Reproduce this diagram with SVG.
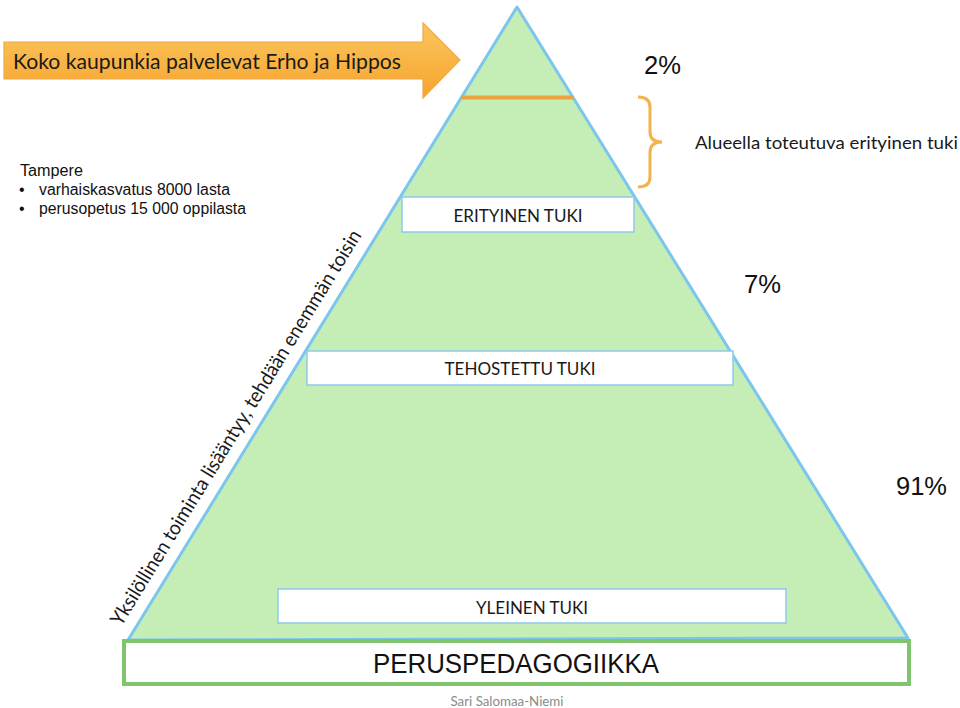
<svg xmlns="http://www.w3.org/2000/svg" width="960" height="708" viewBox="0 0 960 708">
<defs>
<linearGradient id="og" x1="0" y1="0" x2="0" y2="1">
<stop offset="0" stop-color="#fbc660"/>
<stop offset="1" stop-color="#f6a42c"/>
</linearGradient>
<style>
.box{fill:#ffffff;stroke:#8ec9ec;stroke-width:1.5}
.cal{font-family:"Lato","Open Sans",sans-serif;fill:#1a1a1a}
.ari{font-family:"Liberation Sans",Arial,sans-serif;fill:#111}
</style>
</defs>
<rect width="960" height="708" fill="#ffffff"/>
<g id="pyramid">
<polygon points="517,7 128,640 908,638" fill="#c4eeb5" stroke="#7cc6ee" stroke-width="3" stroke-linejoin="round"/>
<line x1="461" y1="97.5" x2="573" y2="97.5" stroke="#e9a33f" stroke-width="4"/>
</g>
<g id="arrow">
<polygon points="4,42 423,42 423,23 460,60 423,98 423,79 4,79" fill="url(#og)" stroke="#eea84a" stroke-width="1.2"/>
<text class="cal" x="13" y="69" font-size="22" textLength="388" lengthAdjust="spacingAndGlyphs">Koko kaupunkia palvelevat Erho ja Hippos</text>
</g>
<g id="tampere">
<text class="ari" x="20" y="176" font-size="16" textLength="63" lengthAdjust="spacingAndGlyphs">Tampere</text>
<text class="ari" x="19" y="195" font-size="16">•</text>
<text class="ari" x="39" y="195" font-size="16" textLength="191" lengthAdjust="spacingAndGlyphs">varhaiskasvatus 8000 lasta</text>
<text class="ari" x="19" y="214" font-size="16">•</text>
<text class="ari" x="39" y="214" font-size="16" textLength="207" lengthAdjust="spacingAndGlyphs">perusopetus 15 000 oppilasta</text>
</g>
<g id="erityinen">
<rect class="box" x="402" y="197" width="232" height="35"/>
<text class="cal" x="518" y="222" font-size="18" text-anchor="middle" textLength="129" lengthAdjust="spacingAndGlyphs">ERITYINEN TUKI</text>
</g>
<g id="tehostettu">
<rect class="box" x="307" y="351" width="426" height="34"/>
<text class="cal" x="520" y="375" font-size="18" text-anchor="middle" textLength="151" lengthAdjust="spacingAndGlyphs">TEHOSTETTU TUKI</text>
</g>
<g id="yleinen">
<rect class="box" x="278" y="589" width="508" height="34"/>
<text class="cal" x="532" y="614" font-size="18" text-anchor="middle" textLength="112" lengthAdjust="spacingAndGlyphs">YLEINEN TUKI</text>
</g>
<g id="peruspedagogiikka">
<rect x="124" y="641" width="785" height="43" fill="#ffffff" stroke="#80c46d" stroke-width="4"/>
<text class="ari" x="516" y="673" font-size="27" text-anchor="middle" textLength="286" lengthAdjust="spacingAndGlyphs">PERUSPEDAGOGIIKKA</text>
</g>
<g id="brace">
<path d="M638,97 Q650,97 650,107 L650,132 Q650,142 662,142 Q650,142 650,152 L650,177 Q650,187 638,187" fill="none" stroke="#f2b24e" stroke-width="3"/>
<text class="cal" x="695" y="149" font-size="18" textLength="263" lengthAdjust="spacingAndGlyphs">Alueella toteutuva erityinen tuki</text>
</g>
<g id="percentages">
<text class="ari" x="644" y="74" font-size="26" textLength="37" lengthAdjust="spacingAndGlyphs">2%</text>
<text class="ari" x="744" y="293" font-size="26" textLength="37" lengthAdjust="spacingAndGlyphs">7%</text>
<text class="ari" x="896" y="495" font-size="26" textLength="51" lengthAdjust="spacingAndGlyphs">91%</text>
</g>
<g id="side-label">
<text class="cal" font-size="20" transform="translate(121.3,627) rotate(-58.43)" textLength="460" lengthAdjust="spacingAndGlyphs">Yksilöllinen toiminta lisääntyy, tehdään enemmän toisin</text>
</g>
<g id="footer">
<text x="507" y="706" font-family="Lato,'Open Sans',sans-serif" font-size="13" fill="#8a8a8a" text-anchor="middle" textLength="113" lengthAdjust="spacingAndGlyphs">Sari Salomaa-Niemi</text>
</g>
<g id="connectors"/>
</svg>
